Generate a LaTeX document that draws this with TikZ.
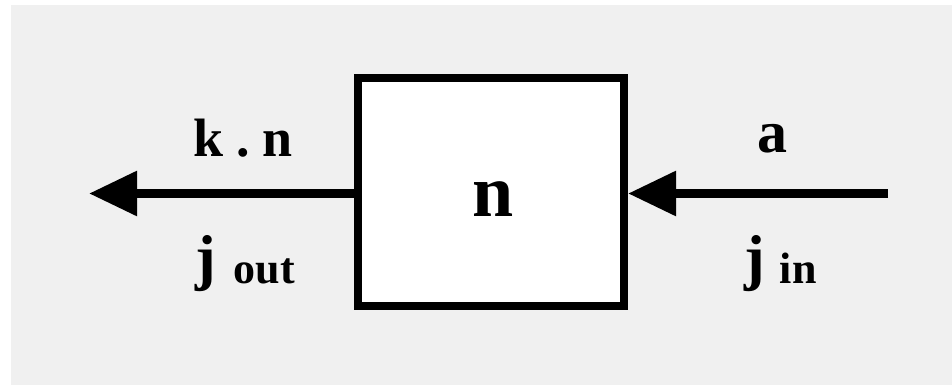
\documentclass[tikz,border=0pt]{standalone}
\usepackage{fontspec}
\setmainfont{Liberation Serif}
\usetikzlibrary{arrows.meta}
\definecolor{bggray}{HTML}{F0F0F0}
\begin{document}
\begin{tikzpicture}[x=1pt,y=-1pt,
  boxstyle/.style={draw=black,line width=8pt,fill=white,minimum width=266pt,minimum height=228pt,inner sep=0pt},
  flow/.style={line width=9pt,-{Triangle[length=48pt,width=43pt]}},
  lbl/.style={inner sep=0pt,font=\bfseries}]
\useasboundingbox (0,0) rectangle (952,385);
\fill[white] (0,0) rectangle (952,385);
\fill[bggray] (11,5) rectangle (952,385);
\node[boxstyle] (box) at (491,192) {};
\node[lbl,font=\fontsize{74}{74}\bfseries\selectfont] (n) at (493,199) {n};
\coordinate (L) at (89,193.5);
\coordinate (R) at (888,193.5);
\draw[flow] (box.west |- L) -- (L);
\draw[flow] (R) -- (box.east |- R);
\node[lbl,font=\fontsize{54}{54}\bfseries\selectfont,anchor=base] (kn) at (243,156) {k\hspace{13pt}.\hspace{13pt}n};
\node[lbl,font=\fontsize{60}{60}\bfseries\selectfont,anchor=base] (a) at (772,152) {a};
\node[lbl,anchor=base west] (jout) at (195,278) {\fontsize{62}{62}\bfseries\selectfont j\hspace{18pt}\raisebox{-5pt}{\fontsize{44}{44}\selectfont out}};
\node[lbl,anchor=base west] (jin) at (744,278) {\fontsize{62}{62}\bfseries\selectfont j\hspace{15pt}\raisebox{-5pt}{\fontsize{44}{44}\selectfont in}};
\end{tikzpicture}
\end{document}
